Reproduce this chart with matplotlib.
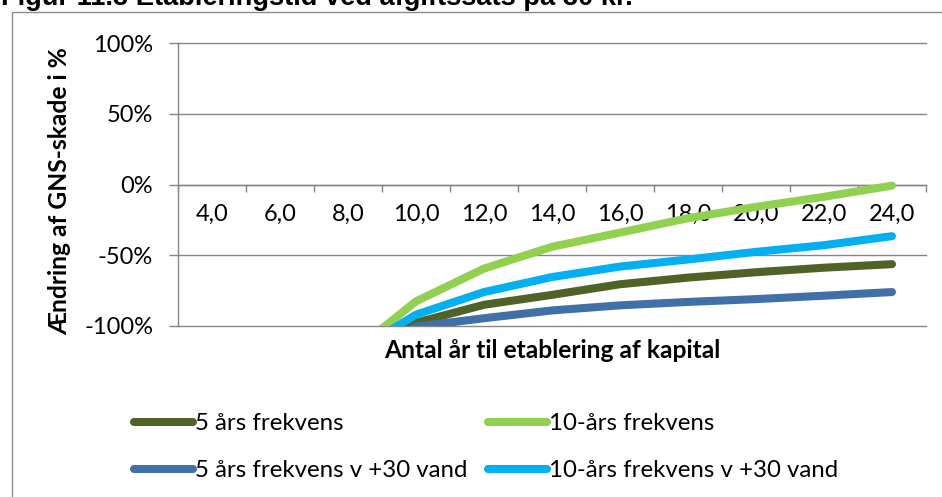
import matplotlib
matplotlib.use("Agg")
import matplotlib.pyplot as plt
from matplotlib.patches import Rectangle

# Data: change in GNS damage (%) by years until capital is established
years = [4.0, 6.0, 8.0, 10.0, 12.0, 14.0, 16.0, 18.0, 20.0, 22.0, 24.0]
year_labels = ["4,0", "6,0", "8,0", "10,0", "12,0", "14,0", "16,0", "18,0", "20,0", "22,0", "24,0"]

freq5 = [-260, -170, -123, -97.7, -85.0, -78.0, -70.5, -65.8, -62.0, -58.8, -56.3]
freq10 = [-240, -160, -121, -82.6, -59.4, -44.0, -34.0, -23.8, -15.8, -8.7, -0.8]
freq5_water = [-280, -190, -130, -100.5, -94.5, -89.0, -85.4, -83.0, -81.0, -78.6, -76.0]
freq10_water = [-250, -165, -121, -92.0, -76.0, -65.4, -58.0, -53.0, -47.6, -42.9, -36.5]

series_names = ["5 års frekvens", "10-års frekvens",
                "5 års frekvens v +30 vand", "10-års frekvens v +30 vand"]
series_colors = ["#4F6228", "#92D050", "#416FA7", "#00B0F0"]

y_ticks = [-100, -50, 0, 50, 100]
y_tick_labels = ["-100%", "-50%", "0%", "50%", "100%"]

W, H = 942, 497
fig = plt.figure(figsize=(W / 100, H / 100), dpi=100)

FONT = ["Lato", "DejaVu Sans"]
GRID = "#868686"
FS_TICK = 17
FS_TITLE = 17.7
FS_LEG = 17.3

# plot area in pixels
left, right, top, bottom = 178, 926, 43, 326
ax = fig.add_axes([left / W, 1 - bottom / H, (right - left) / W, (bottom - top) / H])

x = list(range(len(years)))
handles = []
for vals, name, col in zip([freq5, freq10, freq5_water, freq10_water], series_names, series_colors):
    (ln,) = ax.plot(x, vals, color=col, lw=5.8, solid_capstyle="round",
                    solid_joinstyle="round", label=name, zorder=3)
    handles.append(ln)

ax.set_xlim(-0.5, len(years) - 0.5)
ax.set_ylim(-100, 100)

# y axis
ax.set_yticks(y_ticks)
ax.set_yticklabels(y_tick_labels, fontfamily=FONT, fontsize=FS_TICK)
ax.tick_params(axis="y", direction="out", length=6.5, width=1.0, color=GRID, pad=11.5)
ax.grid(axis="y", color=GRID, lw=1.0, clip_on=False, zorder=1)
ax.set_axisbelow(True)

# category axis crossing at 0
ax.spines["bottom"].set_position(("data", 0))
ax.spines["bottom"].set_color(GRID)
ax.spines["left"].set_color(GRID)
ax.spines["bottom"].set_linewidth(1.0)
ax.spines["left"].set_linewidth(1.0)
ax.spines["top"].set_visible(False)
ax.spines["right"].set_visible(False)
ax.set_xticks(x)
ax.set_xticklabels(year_labels, fontfamily=FONT, fontsize=FS_TICK)
ax.set_xticks([i - 0.5 for i in range(len(years) + 1)], minor=True)
ax.tick_params(axis="x", which="major", length=0, pad=14)
ax.tick_params(axis="x", which="minor", direction="out", length=5, width=1.0, color=GRID)

ax.set_ylabel("Ændring af GNS-skade i %", fontfamily=FONT, fontsize=FS_TITLE, fontweight="bold",
              va="center", ha="center")
ax.yaxis.set_label_coords((60 - left) / (right - left), (bottom - 191) / (bottom - top))
ax.set_xlabel("Antal år til etablering af kapital", fontfamily=FONT, fontsize=FS_TITLE,
              fontweight="bold", va="center", ha="center")
ax.xaxis.set_label_coords(0.5, (bottom - 351) / (bottom - top))

# legends: two columns placed side by side
leg_kw = dict(frameon=False, prop={"family": FONT, "size": FS_LEG},
              handlelength=2.45, handletextpad=0.1, labelspacing=1.08, borderpad=0,
              borderaxespad=0, loc="upper left")
leg1 = fig.legend([handles[0], handles[2]], [series_names[0], series_names[2]],
                  bbox_to_anchor=(134 / W, 1 - 413 / H), **leg_kw)
leg2 = fig.legend([handles[1], handles[3]], [series_names[1], series_names[3]],
                  bbox_to_anchor=(488 / W, 1 - 413 / H), **leg_kw)

# chart frame
fig.add_artist(Rectangle((12 / W, -0.1), 1.2, 1 - 12 / H + 0.1, transform=fig.transFigure,
                         fill=False, edgecolor="#8c8c8c", lw=1.0))

# title (partly above the visible area)
fig.text(1 / W, 1 - 5 / H, "Figur 11.3 Etableringstid ved afgiftssats på 30 kr.",
         fontfamily=["Liberation Sans", "DejaVu Sans"], fontweight="bold", fontsize=19.6,
         ha="left", va="baseline")

fig.savefig("out.png", dpi=100)
